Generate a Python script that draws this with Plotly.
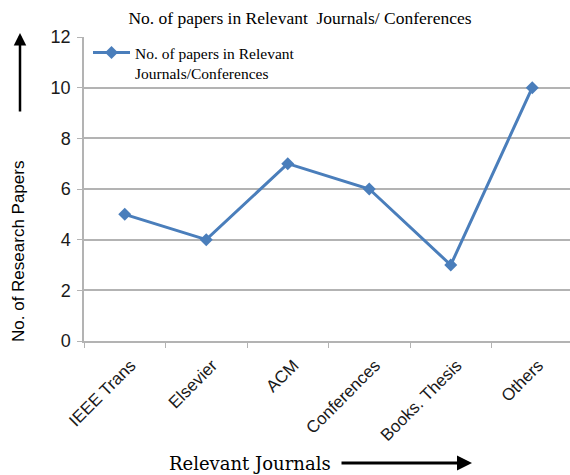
import plotly.graph_objects as go

# Paper counts per publication source
categories = ["IEEE Trans", "Elsevier", "ACM", "Conferences", "Books. Thesis", "Others"]
paper_counts = [5, 4, 7, 6, 3, 10]
y_ticks = [0, 2, 4, 6, 8, 10, 12]

series_name = "No. of papers in Relevant<br>Journals/Conferences"
line_blue = "#4a7ebb"
grid_gray = "#b3b3b3"
serif = "Liberation Serif, Times New Roman, serif"
wide_serif = "DejaVu Serif, serif"
sans = "Liberation Sans, Arial, sans-serif"

W, H = 570, 475
ML, MR, MT, MB = 84, 0, 37, 134
plot_w = W - ML - MR
plot_h = H - MT - MB


def px_to_paper_x(px):
    return (px - ML) / plot_w


def px_to_paper_y(py):
    return (H - MB - py) / plot_h


fig = go.Figure()
fig.add_trace(go.Scatter(
    x=categories,
    y=paper_counts,
    mode="lines+markers",
    name=series_name,
    line=dict(color=line_blue, width=3),
    marker=dict(symbol="diamond", size=10, color=line_blue),
))

fig.update_layout(
    width=W,
    height=H,
    margin=dict(l=ML, r=MR, t=MT, b=MB, pad=0),
    paper_bgcolor="white",
    plot_bgcolor="white",
    title=dict(
        text="No. of papers in Relevant  Journals/ Conferences",
        x=px_to_paper_x(300), xref="paper", xanchor="center",
        y=1 - 18 / H, yanchor="middle",
        font=dict(family=serif, size=17.5, color="black"),
    ),
    showlegend=True,
    legend=dict(
        x=px_to_paper_x(88), y=px_to_paper_y(36),
        xanchor="left", yanchor="top",
        valign="top",
        bgcolor="rgba(255,255,255,0)",
        font=dict(family=serif, size=15.5, color="black"),
        itemwidth=37,
    ),
    xaxis=dict(
        type="category",
        range=[-0.5, 5.5 - 3 / 81.5],
        tickson="boundaries",
        ticks="outside",
        ticklen=5,
        tickcolor=grid_gray,
        showgrid=False,
        showline=True,
        linecolor=grid_gray,
        linewidth=1.5,
        tickangle=-45,
        ticklabelshift=6,
        ticklabelstandoff=6,
        tickfont=dict(family=sans, size=17, color="#1a1a1a"),
    ),
    yaxis=dict(
        range=[0, 12],
        tickvals=y_ticks,
        ticks="outside",
        ticklen=5,
        tickcolor=grid_gray,
        showgrid=True,
        gridcolor=grid_gray,
        gridwidth=1.5,
        showline=True,
        linecolor=grid_gray,
        linewidth=1.5,
        zeroline=False,
        ticklabelstandoff=3,
        tickfont=dict(family=sans, size=18, color="#1a1a1a"),
    ),
)

# Vertical axis title and its arrow
fig.add_annotation(
    text="No. of Research Papers", textangle=-90,
    xref="paper", yref="paper",
    x=px_to_paper_x(18), y=px_to_paper_y(252),
    xanchor="center", yanchor="middle",
    showarrow=False,
    font=dict(family=sans, size=17, color="black"),
)
fig.add_annotation(
    text="", xref="paper", yref="paper",
    x=px_to_paper_x(20), y=px_to_paper_y(33),
    ax=0, ay=80,
    showarrow=True, arrowhead=2, arrowsize=1, arrowwidth=2.5, arrowcolor="black",
)

# Horizontal axis title and its arrow
fig.add_annotation(
    text="Relevant Journals",
    xref="paper", yref="paper",
    x=px_to_paper_x(250), y=px_to_paper_y(463),
    xanchor="center", yanchor="middle",
    showarrow=False,
    font=dict(family=wide_serif, size=18, color="black"),
)
fig.add_annotation(
    text="", xref="paper", yref="paper",
    x=px_to_paper_x(472), y=px_to_paper_y(463),
    ax=-132, ay=0,
    showarrow=True, arrowhead=2, arrowsize=1, arrowwidth=3, arrowcolor="black",
)

fig.write_html("out.html")
